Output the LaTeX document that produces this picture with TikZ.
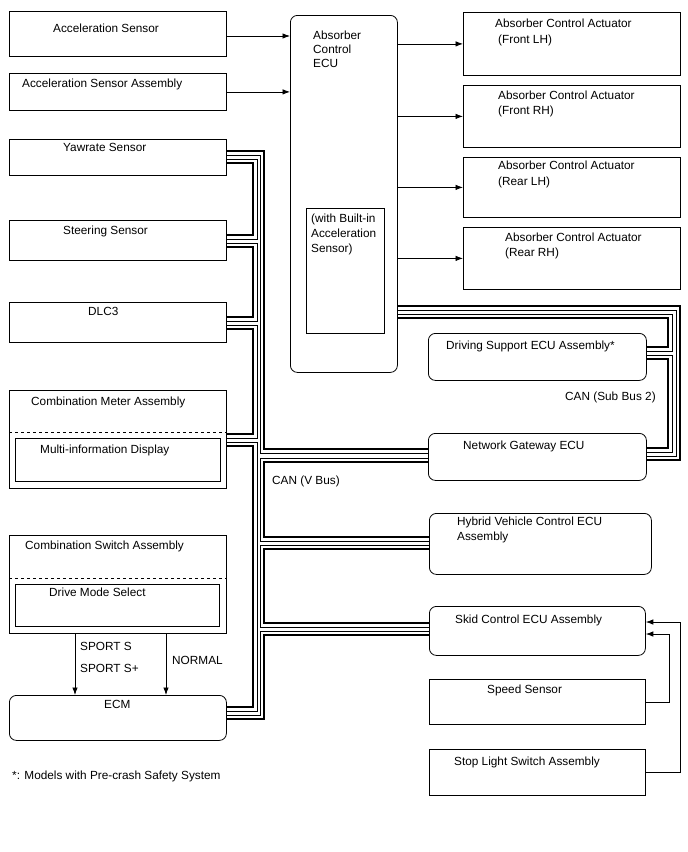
\documentclass[tikz,border=0pt]{standalone}
\usepackage{fontspec}
\setmainfont{Liberation Sans}
\usetikzlibrary{arrows.meta}
\begin{document}
\begin{tikzpicture}[x=1pt,y=-1pt,
  box/.style={draw, line width=0.8pt, anchor=north west, inner sep=0pt},
  rbox/.style={box, rounded corners=7pt},
  bk/.style={line width=2.6pt},
  tn/.style={line width=0.9pt},
  arr/.style={line width=0.8pt, -{Latex[length=7.5pt,width=5.5pt]}},
  lbl/.style={anchor=base west, inner sep=0pt, font=\fontsize{11.8}{14.5}\selectfont}]
\fill[white] (0,0) rectangle (688,852);
\useasboundingbox (0,0) rectangle (688,852);
% left boxes
\node[box, minimum width=217pt, minimum height=45pt] (accel) at (9,11) {};
\node[box, minimum width=217pt, minimum height=37pt] (accasm) at (9,73) {};
\node[box, minimum width=217pt, minimum height=36pt] (yaw) at (9,139) {};
\node[box, minimum width=217pt, minimum height=40pt] (steer) at (9,220) {};
\node[box, minimum width=217pt, minimum height=40pt] (dlc) at (9,302) {};
\node[box, minimum width=217pt, minimum height=98pt] (cmeter) at (9,390) {};
\draw[dashed, line width=0.7pt] (cmeter.west |- 0,432) -- (cmeter.east |- 0,432);
\node[box, minimum width=205pt, minimum height=43pt] (mid) at (15,438) {};
\node[box, minimum width=217pt, minimum height=98pt] (cswitch) at (9,535) {};
\draw[dashed, line width=0.7pt] (cswitch.west |- 0,578) -- (cswitch.east |- 0,578);
\node[box, minimum width=204pt, minimum height=42pt] (dms) at (15,584) {};
\node[rbox, minimum width=217pt, minimum height=45pt] (ecm) at (9,695) {};
% ECU
\node[rbox, minimum width=107pt, minimum height=357pt] (ecu) at (290,15) {};
\node[box, minimum width=78pt, minimum height=125pt] (builtin) at (306,208) {};
% actuators
\node[box, minimum width=217pt, minimum height=63pt] (act1) at (463,12) {};
\node[box, minimum width=217pt, minimum height=62pt] (act2) at (463,85) {};
\node[box, minimum width=217pt, minimum height=60pt] (act3) at (463,157) {};
\node[box, minimum width=217pt, minimum height=62pt] (act4) at (463,227) {};
% right ECUs
\node[rbox, minimum width=218pt, minimum height=47pt] (drv) at (428,333) {};
\node[rbox, minimum width=218pt, minimum height=47pt] (gw) at (428,433) {};
\node[rbox, minimum width=222pt, minimum height=61pt] (hyb) at (429,513) {};
\node[rbox, minimum width=216pt, minimum height=49pt] (skid) at (429,606) {};
\node[box, minimum width=216pt, minimum height=45pt] (speed) at (429,679) {};
\node[box, minimum width=216pt, minimum height=46pt] (stop) at (429,749) {};
% texts
\node[lbl] (t1) at (53,32) {Acceleration Sensor};
\node[lbl] (t2) at (22,87) {Acceleration Sensor Assembly};
\node[lbl] (t3) at (63,151) {Yawrate Sensor};
\node[lbl] (t4) at (63,234) {Steering Sensor};
\node[lbl] (t5) at (88,315) {DLC3};
\node[lbl] (t6) at (31,405) {Combination Meter Assembly};
\node[lbl] (t7) at (40,453) {Multi-information Display};
\node[lbl] (t8) at (25,549) {Combination Switch Assembly};
\node[lbl] (t9) at (49,596) {Drive Mode Select};
\node[lbl] (t10) at (80,650) {SPORT S};
\node[lbl] (t11) at (80,672) {SPORT S+};
\node[lbl] (t12) at (172,664) {NORMAL};
\node[lbl] (t13) at (104,708) {ECM};
\node[lbl] (t14) at (12,779) {*: Models with Pre-crash Safety System};
\node[lbl] (t15a) at (313,39) {Absorber};
\node[lbl] (t15b) at (313,53) {Control};
\node[lbl] (t15c) at (313,67) {ECU};
\node[lbl] (t16a) at (311,222) {(with Built-in};
\node[lbl] (t16b) at (311,237) {Acceleration};
\node[lbl] (t16c) at (311,252) {Sensor)};
\node[lbl] (t17a) at (495,27) {Absorber Control Actuator};
\node[lbl] (t17b) at (498,43) {(Front LH)};
\node[lbl] (t18a) at (498,99) {Absorber Control Actuator};
\node[lbl] (t18b) at (498,114) {(Front RH)};
\node[lbl] (t19a) at (498,169) {Absorber Control Actuator};
\node[lbl] (t19b) at (498,185) {(Rear LH)};
\node[lbl] (t20a) at (505,241) {Absorber Control Actuator};
\node[lbl] (t20b) at (505,256) {(Rear RH)};
\node[lbl] (t21) at (446,349) {Driving Support ECU Assembly*};
\node[lbl] (t22) at (565,400) {CAN (Sub Bus 2)};
\node[lbl] (t23) at (463,449) {Network Gateway ECU};
\node[lbl] (t24) at (272,484) {CAN (V Bus)};
\node[lbl] (t25a) at (457,525) {Hybrid Vehicle Control ECU};
\node[lbl] (t25b) at (457,540) {Assembly};
\node[lbl] (t26) at (455,623) {Skid Control ECU Assembly};
\node[lbl] (t27) at (487,693) {Speed Sensor};
\node[lbl] (t28) at (454,765) {Stop Light Switch Assembly};
% arrows
\draw[arr] (accel.east |- 0,36) -- (ecu.west |- 0,36);
\draw[arr] (accasm.east) -- (accasm.east -| ecu.west);
\draw[arr] (ecu.east |- act1.west) -- (act1.west);
\draw[arr] (ecu.east |- act2.west) -- (act2.west);
\draw[arr] (ecu.east |- act3.west) -- (act3.west);
\draw[arr] (ecu.east |- act4.west) -- (act4.west);
\draw[arr] (cswitch.south -| 75,0) -- (ecm.north -| 75,0);
\draw[arr] (cswitch.south -| 166,0) -- (ecm.north -| 166,0);
\draw[arr] (speed.east) -| (669,634) -- (skid.east |- 0,634);
\draw[arr] (stop.east) -| (680,622) -- (skid.east |- 0,622);
% V bus pair A
\draw[bk] (yaw.east |- 0,151) -| (264,449) -- (gw.west |- 0,449);
\draw[tn] (yaw.east |- 0,155) -| (260,453) -- (gw.west |- 0,453);
\draw[tn] (gw.west |- 0,458) -| (260,541) -- (hyb.west |- 0,541);
\draw[bk] (gw.west |- 0,462) -| (264,537) -- (hyb.west |- 0,537);
\draw[tn] (hyb.west |- 0,545) -| (260,627) -- (skid.west |- 0,627);
\draw[bk] (hyb.west |- 0,549) -| (264,623) -- (skid.west |- 0,623);
\draw[tn] (skid.west |- 0,631) -| (260,715) -- (ecm.east |- 0,715);
\draw[bk] (skid.west |- 0,635) -| (264,719) -- (ecm.east |- 0,719);
% V bus pair B
\draw[tn] (yaw.east |- 0,159) -| (257,239) -- (steer.east |- 0,239);
\draw[bk] (yaw.east |- 0,163) -| (253,235) -- (steer.east |- 0,235);
\draw[tn] (steer.east |- 0,243) -| (257,321) -- (dlc.east |- 0,321);
\draw[bk] (steer.east |- 0,247) -| (253,317) -- (dlc.east |- 0,317);
\draw[tn] (dlc.east |- 0,325) -| (257,438) -- (cmeter.east |- 0,438);
\draw[bk] (dlc.east |- 0,329) -| (253,434) -- (cmeter.east |- 0,434);
\draw[tn] (cmeter.east |- 0,442) -| (257,711) -- (ecm.east |- 0,711);
\draw[bk] (cmeter.east |- 0,446) -| (253,707) -- (ecm.east |- 0,707);
% Sub bus 2
\draw[bk] (ecu.east |- 0,306) -| (680,460) -- (gw.east |- 0,460);
\draw[tn] (ecu.east |- 0,310) -| (676,456) -- (gw.east |- 0,456);
\draw[tn] (ecu.east |- 0,314) -| (672,351) -- (drv.east |- 0,351);
\draw[bk] (ecu.east |- 0,318) -| (668,347) -- (drv.east |- 0,347);
\draw[tn] (drv.east |- 0,355) -| (672,452) -- (gw.east |- 0,452);
\draw[bk] (drv.east |- 0,359) -| (668,448) -- (gw.east |- 0,448);
\end{tikzpicture}
\end{document}
